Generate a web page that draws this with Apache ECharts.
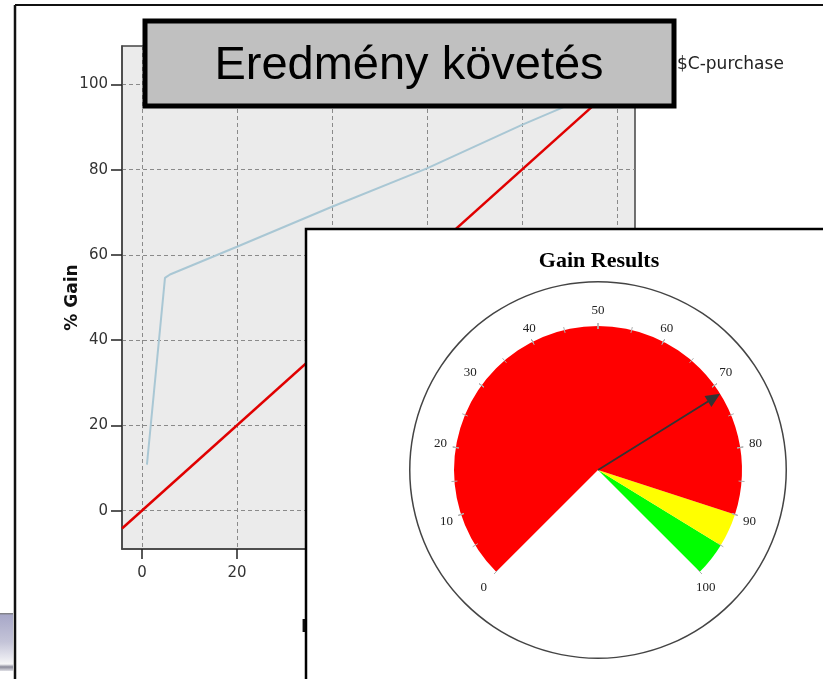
<!DOCTYPE html>
<html>
<head>
<meta charset="utf-8">
<script src="https://cdn.jsdelivr.net/npm/echarts@6/dist/echarts.min.js"></script>
<style>
    html, body {margin: 0; padding: 0; background: #fff;}
    #main {width: 823px; height: 679px;}
</style>
</head>
<body>
<div id="main"></div>
<script>
// tick values of the gain chart
const xTicks = [0, 20, 40, 60, 80, 100];
const yTicks = [0, 20, 40, 60, 80, 100];
// $C-purchase gain curve (percentile, % gain)
const purchaseGain = [[1.05, 10.8], [4.85, 54.6], [5.9, 55.4], [20, 61.9], [40, 71.3], [60, 80.3], [80, 90.5], [100, 100]];
// diagonal reference line
const baseline = [[-4.2, -4.2], [100, 100]];
// gauge bands (upper limit of each band) and value
const bandLimits = [90, 95, 100];
const bandColors = ['#ff0000', '#ffff00', '#00ff00'];
const gainValue = 71.5;

let chart = echarts.init(document.getElementById('main'));

let bandStops = bandLimits.map((v, i) => [v / 100, bandColors[i]]);

let option = {
    animation: false,
    title: {
        text: 'Gain Results',
        left: 594,
        textAlign: 'center',
        top: 245,
        z: 30,
        textStyle: {fontFamily: 'Liberation Serif', fontWeight: 'bold', fontSize: 22, color: '#000'}
    },
    legend: {
        data: ['$C-purchase'],
        left: 641,
        top: 51,
        itemWidth: 25,
        itemGap: 5,
        textStyle: {fontFamily: 'DejaVu Sans', fontSize: 17, color: '#222'}
    },
    grid: {
        left: 122, top: 46, right: 188, bottom: 130,
        show: true,
        backgroundColor: '#ebebeb',
        borderColor: '#444',
        borderWidth: 1.5
    },
    xAxis: {
        type: 'value',
        min: -4.2,
        max: 103.8,
        axisLine: {onZero: false, lineStyle: {color: '#444', width: 1.5}},
        axisTick: {show: true, customValues: xTicks, length: 10, lineStyle: {color: '#222', width: 1.5}},
        axisLabel: {customValues: xTicks, margin: 17, fontFamily: 'DejaVu Sans', fontSize: 15, color: '#333'},
        splitLine: {show: true, lineStyle: {type: [4, 3], color: '#8a8a8a', width: 1}}
    },
    yAxis: {
        type: 'value',
        min: -9,
        max: 109,
        name: '% Gain',
        nameLocation: 'middle',
        nameGap: 41,
        nameMoveOverlap: false,
        nameTextStyle: {fontFamily: 'DejaVu Sans', fontWeight: 'bold', fontSize: 17, color: '#111'},
        axisLine: {show: true, onZero: false, lineStyle: {color: '#444', width: 1.5}},
        axisTick: {show: true, customValues: yTicks, length: 11, lineStyle: {color: '#222', width: 1.5}},
        axisLabel: {customValues: yTicks, margin: 14, fontFamily: 'DejaVu Sans', fontSize: 15, color: '#333'},
        splitLine: {show: true, lineStyle: {type: [4, 3], color: '#8a8a8a', width: 1}}
    },
    graphic: [
        // x axis name, mostly covered by the panel
        {type: 'text', left: 301, top: 619, z: 5,
            style: {text: 'Percentile', font: 'bold 17px "DejaVu Sans"', fill: '#111'}},
        // gauge panel
        {type: 'rect', shape: {x: 306, y: 229, width: 540, height: 480}, z: 10,
            style: {fill: '#fff', stroke: '#000', lineWidth: 2.5}},
        // title box
        {type: 'rect', shape: {x: 145, y: 21, width: 529, height: 85}, z: 50,
            style: {fill: '#c0c0c0', stroke: '#000', lineWidth: 5}},
        {type: 'text', x: 409, y: 66, z: 51,
            style: {text: 'Eredmény követés', font: '47px "Liberation Sans"', fill: '#000', align: 'center', verticalAlign: 'middle'}},
        // slide frame
        {type: 'line', shape: {x1: 15, y1: 5, x2: 830, y2: 5}, z: 60, style: {stroke: '#111', lineWidth: 2}},
        {type: 'line', shape: {x1: 15, y1: 5, x2: 15, y2: 690}, z: 60, style: {stroke: '#111', lineWidth: 2.5}},
        {type: 'rect', shape: {x: 0, y: 613, width: 13, height: 58}, z: 60,
            style: {
                fill: new echarts.graphic.LinearGradient(0, 0, 0, 1, [
                    {offset: 0, color: '#777'},
                    {offset: 0.04, color: '#a8a8c8'},
                    {offset: 0.5, color: '#c4c4d8'},
                    {offset: 0.88, color: '#f6f6f8'},
                    {offset: 0.93, color: '#8a8a9a'},
                    {offset: 1, color: '#e0e0e6'}
                ])
            }}
    ],
    series: [
        {
            name: '$C-purchase',
            type: 'line',
            data: purchaseGain,
            symbol: 'none',
            lineStyle: {color: '#a9c7d4', width: 2},
            itemStyle: {color: '#a9c7d4'},
            z: 3
        },
        {
            name: 'Baseline',
            type: 'line',
            data: baseline,
            symbol: 'none',
            lineStyle: {color: '#e00000', width: 2.5},
            itemStyle: {color: '#e00000'},
            z: 3
        },
        // outer circle of the gauge
        {
            type: 'gauge',
            z: 20,
            center: [598, 470],
            radius: 189,
            startAngle: 90,
            endAngle: -270,
            axisLine: {lineStyle: {width: 1.5, color: [[1, '#444']]}},
            axisTick: {show: false},
            splitLine: {show: false},
            axisLabel: {show: false},
            pointer: {show: false},
            anchor: {show: false},
            title: {show: false},
            detail: {show: false},
            data: [{value: 0}]
        },
        {
            type: 'gauge',
            z: 21,
            center: [598, 470],
            radius: 144,
            startAngle: 225,
            endAngle: -45,
            min: 0,
            max: 100,
            splitNumber: 10,
            axisLine: {roundCap: false, lineStyle: {width: 144, color: bandStops}},
            splitLine: {length: 6, distance: -147, lineStyle: {color: '#b0b0b0', width: 1}},
            axisTick: {splitNumber: 2, length: 6, distance: -147, lineStyle: {color: '#b0b0b0', width: 1}},
            axisLabel: {distance: 119, fontFamily: 'Liberation Serif', fontSize: 13, color: '#222'},
            pointer: {
                icon: 'path://M6,100 L8,100 L8,10 L14,10 L7,0 L0,10 L6,10 Z',
                length: '100%',
                width: 13,
                itemStyle: {color: '#333'}
            },
            anchor: {show: false},
            title: {show: false},
            detail: {show: false},
            data: [{value: gainValue, name: 'Gain'}]
        }
    ]
};

chart.setOption(option);
</script>
</body>
</html>
